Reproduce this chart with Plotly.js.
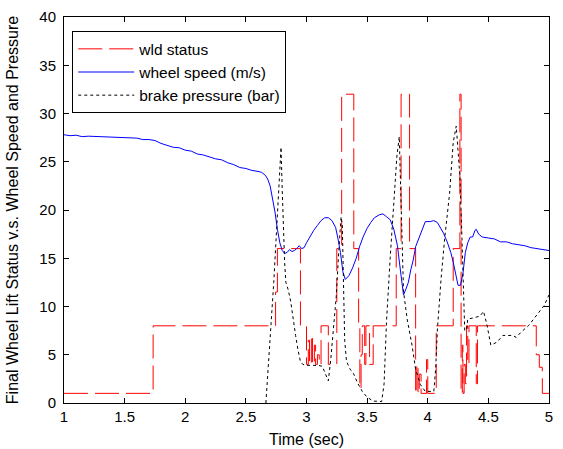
<!DOCTYPE html>
<html><head><meta charset="utf-8">
<script src="https://cdn.plot.ly/plotly-3.0.1.min.js"></script>
<style>html,body{margin:0;padding:0;background:#fff}#chart{width:563px;height:449px}</style>
</head><body><div id="chart"></div>
<script>
// wld status (step signal)
const wldTime = [1, 1.735, 2.745, 2.76, 2.95, 3.0, 3.015, 3.025, 3.04, 3.05, 3.065, 3.075, 3.09, 3.105, 3.12, 3.18, 3.25, 3.29, 3.39, 3.43, 3.44, 3.45, 3.46, 3.48, 3.49, 3.52, 3.55, 3.74, 3.78, 3.85, 3.90, 3.91, 3.92, 3.93, 3.945, 3.99, 4.0, 4.07, 4.21, 4.265, 4.275, 4.285, 4.29, 4.30, 4.31, 4.32, 4.33, 4.34, 4.40, 4.41, 4.895, 4.92, 4.945, 5.0];
const wldStatus = [1, 8, 11.5, 16, 8, 4, 6.5, 4, 7, 4, 6, 4, 5, 4, 8, 4, 16, 32, 16, 8, 1.5, 5, 8, 4, 8, 4, 8, 16, 32, 16, 1, 4, 1, 3, 1, 4.5, 1, 8, 16, 32, 1, 6, 1, 4, 2, 8, 4, 8, 2, 8, 5, 3.7, 1, 1];

// wheel speed (m/s)
const speedTime = [1.00, 1.05, 1.10, 1.15, 1.20, 1.30, 1.40, 1.50, 1.55, 1.60, 1.65, 1.70, 1.75, 1.80, 1.85, 1.90, 1.95, 2.00, 2.05, 2.10, 2.15, 2.20, 2.25, 2.30, 2.35, 2.40, 2.45, 2.50, 2.55, 2.60, 2.63, 2.66, 2.68, 2.70, 2.72, 2.74, 2.76, 2.78, 2.80, 2.82, 2.84, 2.86, 2.88, 2.90, 2.92, 2.94, 2.96, 2.98, 3.00, 3.03, 3.06, 3.09, 3.12, 3.15, 3.18, 3.21, 3.24, 3.26, 3.28, 3.30, 3.32, 3.35, 3.38, 3.41, 3.44, 3.47, 3.50, 3.53, 3.56, 3.60, 3.63, 3.66, 3.69, 3.72, 3.75, 3.77, 3.79, 3.80, 3.82, 3.84, 3.86, 3.88, 3.90, 3.93, 3.96, 3.98, 4.02, 4.05, 4.08, 4.10, 4.13, 4.16, 4.19, 4.21, 4.23, 4.25, 4.27, 4.29, 4.31, 4.33, 4.35, 4.37, 4.39, 4.40, 4.42, 4.45, 4.50, 4.55, 4.60, 4.65, 4.70, 4.75, 4.80, 4.85, 4.90, 4.95, 5.00];
const wheelSpeed = [27.8, 27.7, 27.75, 27.6, 27.65, 27.6, 27.6, 27.5, 27.55, 27.45, 27.3, 27.3, 27.2, 26.9, 26.7, 26.5, 26.45, 26.2, 26.1, 25.8, 25.7, 25.5, 25.3, 25.2, 24.9, 24.7, 24.4, 24.3, 24.1, 24.0, 23.9, 23.6, 23.2, 22.5, 21.3, 19.8, 18.0, 16.6, 15.8, 15.5, 15.6, 15.9, 15.7, 15.8, 16.0, 16.3, 16.0, 16.1, 16.6, 17.3, 17.9, 18.4, 18.9, 19.2, 19.2, 18.9, 18.2, 17.0, 15.6, 13.6, 12.8, 13.2, 14.0, 15.0, 16.3, 17.3, 18.1, 18.7, 19.2, 19.5, 19.6, 19.3, 19.0, 18.0, 16.3, 14.2, 12.0, 11.2, 11.8, 12.5, 13.8, 14.8, 16.2, 17.2, 18.2, 18.8, 18.8, 18.9, 18.7, 18.3, 17.6, 16.7, 15.6, 14.6, 13.2, 12.2, 12.2, 13.4, 15.6, 16.6, 17.2, 17.2, 17.9, 18.0, 17.5, 17.2, 17.1, 17.0, 16.7, 16.7, 16.5, 16.4, 16.3, 16.1, 16.0, 15.9, 15.8];

// brake pressure (bar)
const pressureTime = [2.665, 2.70, 2.73, 2.76, 2.78, 2.79, 2.80, 2.81, 2.82, 2.83, 2.85, 2.87, 2.89, 2.91, 2.93, 2.95, 2.97, 3.00, 3.05, 3.10, 3.13, 3.15, 3.17, 3.18, 3.20, 3.22, 3.245, 3.265, 3.285, 3.295, 3.305, 3.315, 3.33, 3.36, 3.39, 3.42, 3.46, 3.50, 3.55, 3.58, 3.62, 3.64, 3.66, 3.69, 3.72, 3.745, 3.765, 3.775, 3.79, 3.80, 3.83, 3.87, 3.90, 3.94, 3.98, 4.05, 4.065, 4.08, 4.11, 4.14, 4.18, 4.21, 4.235, 4.25, 4.265, 4.28, 4.29, 4.305, 4.32, 4.33, 4.37, 4.43, 4.46, 4.49, 4.52, 4.57, 4.62, 4.70, 4.73, 4.77, 4.83, 4.90, 4.96, 5.00];
const brakePressure = [0, 6.5, 12.5, 19.5, 24.5, 26.5, 22, 17.5, 14.5, 12.5, 11.7, 10.5, 8.5, 7, 5.5, 4.3, 4.0, 3.9, 3.9, 3.9, 3.8, 3.2, 2.5, 2.3, 4.5, 7.5, 11, 15.5, 19.3, 18.5, 11, 6.5, 4.3, 3.5, 3.0, 2.1, 1.2, 0.6, 0.2, 0.15, 0.15, 2, 8.5, 15, 21, 25.5, 27.6, 23, 15, 11.6, 8.7, 6.0, 3.5, 1.9, 1.2, 1.2, 3.5, 7.7, 12.9, 17.1, 21.7, 27.0, 28.7, 26.5, 23.5, 17.9, 13, 7.5, 7.6, 8.7, 8.8, 9.0, 9.5, 8.0, 6.0, 6.3, 7.0, 7.0, 6.8, 7.35, 8.0, 9.1, 10.1, 11.2];

const xTicks = [1, 1.5, 2, 2.5, 3, 3.5, 4, 4.5, 5];
const xTickText = ['1', '1.5', '2', '2.5', '3', '3.5', '4', '4.5', '5'];
const yTicks = [0, 5, 10, 15, 20, 25, 30, 35, 40];
const yTickText = ['0', '5', '10', '15', '20', '25', '30', '35', '40'];

const FONT = 'Liberation Sans, Arial, Helvetica, sans-serif';

const traces = [
  {x: wldTime, y: wldStatus, name: 'wld status', type: 'scatter', mode: 'lines',
   line: {color: '#ff0000', width: 1, dash: '24px,7px', shape: 'hv'}},
  {x: speedTime, y: wheelSpeed, name: 'wheel speed (m/s)', type: 'scatter', mode: 'lines',
   line: {color: '#0000ff', width: 1}},
  {x: pressureTime, y: brakePressure, name: 'brake pressure (bar)', type: 'scatter', mode: 'lines',
   line: {color: '#000000', width: 1, dash: '3px,3px'}}
];

const axisCommon = {
  ticks: 'inside', ticklen: 5, tickwidth: 1, tickcolor: '#000',
  showline: true, linecolor: '#000', linewidth: 1, mirror: 'ticks',
  showgrid: false, zeroline: false, automargin: false,
  tickfont: {family: FONT, size: 15, color: '#000'}
};

const layout = {
  width: 563, height: 449,
  margin: {l: 64, r: 14, t: 17, b: 46, pad: 0},
  paper_bgcolor: '#ffffff', plot_bgcolor: '#ffffff',
  font: {family: FONT, size: 15, color: '#000'},
  showlegend: true,
  legend: {x: 0.017, y: 0.963, xanchor: 'left', yanchor: 'top',
    bgcolor: '#ffffff', bordercolor: '#000', borderwidth: 1,
    itemwidth: 56, font: {family: FONT, size: 15.5, color: '#000'}},
  xaxis: Object.assign({}, axisCommon, {range: [1, 5], tickvals: xTicks, ticktext: xTickText,
    title: {text: 'Time (sec)', font: {family: FONT, size: 16, color: '#000'}, standoff: 9}}),
  yaxis: Object.assign({}, axisCommon, {range: [0, 40], tickvals: yTicks, ticktext: yTickText,
    ticklabelstandoff: 4,
    title: {text: 'Final Wheel Lift Status v.s. Wheel Speed and Pressure', font: {family: FONT, size: 16, color: '#000'}, standoff: 16}})
};

Plotly.newPlot('chart', traces, layout, {staticPlot: true, displayModeBar: false});
</script>
</body></html>
